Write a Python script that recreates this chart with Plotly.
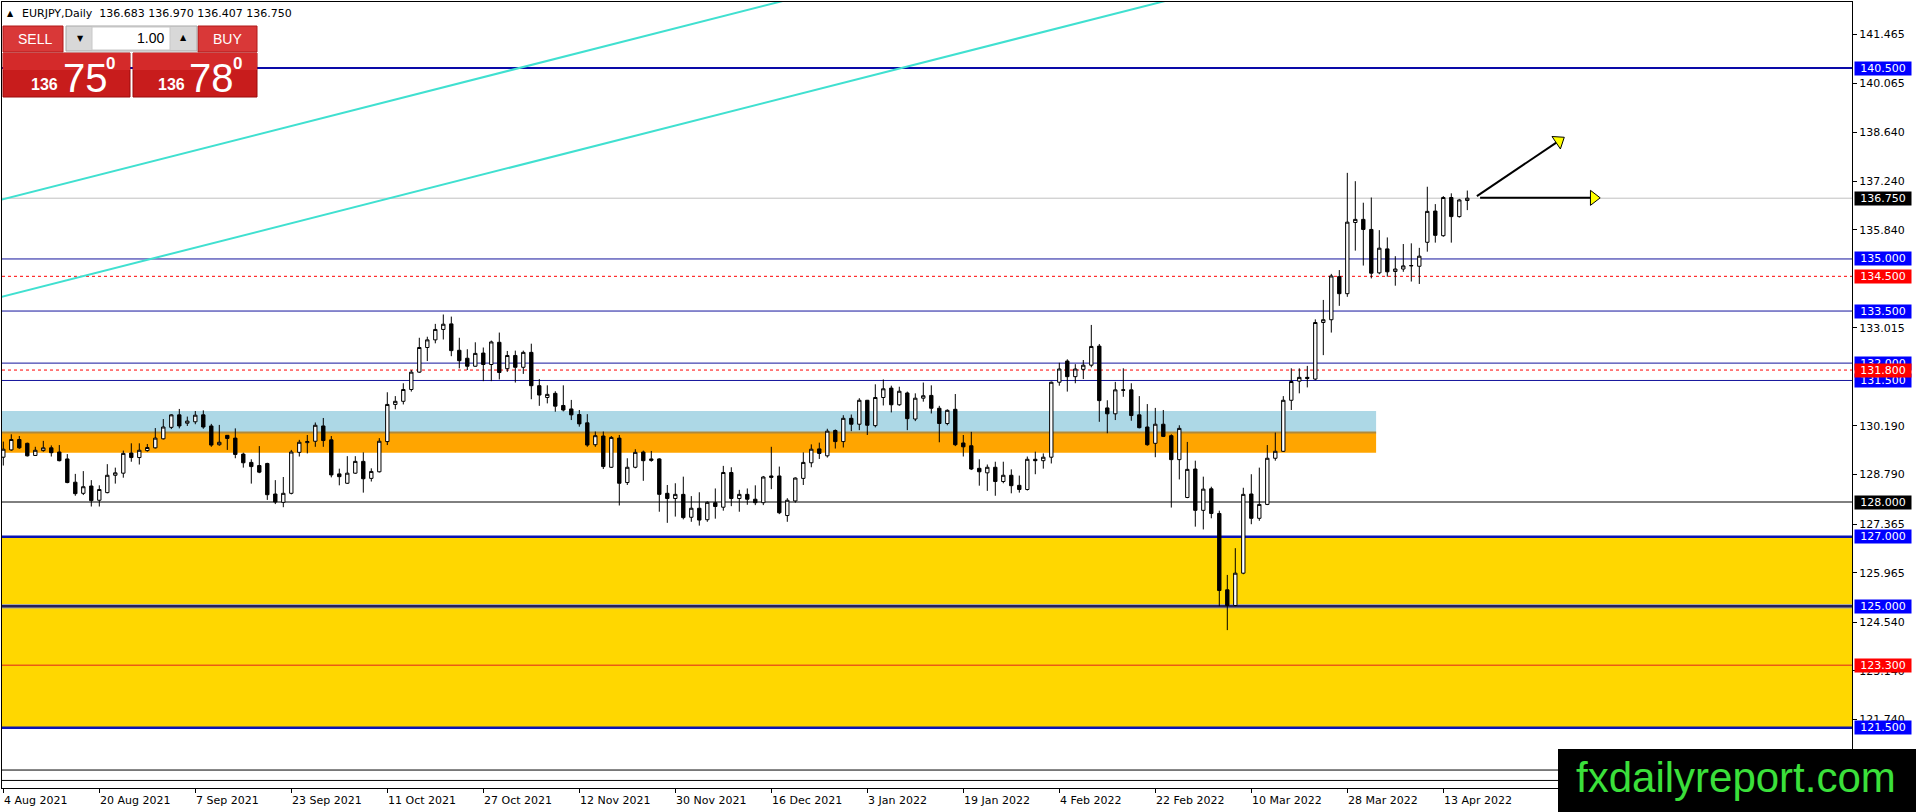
import plotly.graph_objects as go
import pandas as pd

# ---------------- data ----------------
SYMBOL = "EURJPY,Daily"
START_DATE = "2021-08-04"
BID = 136.750
ASK = 136.780

OPEN = [129.29, 129.50, 129.80, 129.69, 129.34, 129.48, 129.56, 129.44, 129.24, 128.57,
        128.25, 128.46, 128.05, 128.27, 128.77, 128.83, 129.41, 129.28, 129.48, 129.56,
        129.82, 130.15, 130.51, 130.27, 130.31, 130.51, 130.19, 129.65, 129.92, 129.84,
        129.38, 129.14, 129.05, 129.11, 128.23, 127.99, 128.25, 129.43, 129.71, 129.75,
        130.19, 129.79, 128.81, 128.54, 128.83, 129.17, 128.68, 128.87, 129.74, 130.81,
        130.90, 131.24, 131.74, 132.45, 132.67, 132.97, 133.13, 132.37, 132.14, 131.91,
        132.29, 131.96, 132.60, 131.84, 132.22, 131.88, 132.31, 131.35, 131.01, 131.13,
        130.78, 130.68, 130.52, 130.28, 129.65, 129.90, 129.00, 129.84, 128.56, 129.00,
        129.44, 129.24, 129.24, 128.25, 128.10, 128.22, 127.56, 127.82, 127.49, 127.98,
        127.85, 128.85, 128.10, 128.22, 128.08, 127.98, 128.75, 128.75, 127.61, 128.03,
        128.68, 129.13, 129.53, 129.33, 130.06, 129.74, 130.41, 130.24, 130.93, 130.20,
        131.01, 131.28, 130.80, 131.14, 130.39, 130.99, 131.07, 130.70, 130.26, 130.67,
        129.70, 129.62, 128.97, 128.84, 129.00, 128.59, 128.77, 128.48, 128.36, 129.23,
        129.19, 129.29, 131.45, 132.06, 131.61, 131.82, 131.94, 132.49, 130.71, 130.54,
        131.23, 131.23, 130.51, 130.16, 129.69, 130.24, 129.91, 129.22, 128.13, 128.95,
        127.76, 128.38, 127.67, 125.47, 125.02, 125.95, 128.23, 127.53, 127.93, 129.26,
        129.46, 130.93, 131.48, 131.59, 131.54, 133.17, 133.25, 134.49, 134.00, 136.05,
        136.14, 135.85, 134.60, 135.29, 134.64, 134.71, 134.80, 134.79, 135.48, 136.38,
        135.67, 136.77, 136.22, 136.683]
HIGH = [129.74, 129.95, 129.90, 129.71, 129.59, 129.76, 129.63, 129.64, 129.38, 128.81,
        128.89, 128.63, 128.48, 129.09, 128.99, 129.48, 129.69, 129.69, 129.67, 130.13,
        130.39, 130.53, 130.68, 130.46, 130.62, 130.64, 130.25, 130.22, 129.93, 130.12,
        129.42, 129.23, 129.61, 129.13, 128.63, 128.72, 129.50, 129.79, 129.93, 130.29,
        130.42, 129.90, 128.96, 129.32, 129.32, 129.43, 128.97, 129.84, 131.16, 131.05,
        131.42, 131.80, 132.73, 132.76, 133.13, 133.40, 133.34, 132.73, 132.40, 132.60,
        132.45, 132.65, 132.88, 132.35, 132.36, 132.36, 132.56, 131.54, 131.36, 131.19,
        131.36, 130.94, 130.65, 130.53, 130.03, 130.03, 129.90, 129.93, 129.26, 129.52,
        129.48, 129.47, 129.26, 128.49, 128.54, 128.73, 128.17, 128.28, 128.02, 128.39,
        129.04, 129.00, 128.35, 128.39, 128.48, 128.75, 129.59, 129.02, 128.11, 128.71,
        129.43, 129.66, 129.71, 130.11, 130.09, 130.50, 130.52, 130.99, 130.94, 131.39,
        131.53, 131.35, 131.32, 131.18, 131.13, 131.44, 131.36, 130.77, 130.67, 131.11,
        129.93, 130.02, 129.23, 129.08, 129.16, 129.16, 128.94, 128.76, 129.31, 129.45,
        129.40, 131.47, 132.01, 132.11, 131.97, 132.09, 133.10, 132.55, 130.93, 131.46,
        131.85, 131.42, 131.05, 130.82, 130.71, 130.65, 129.95, 130.21, 129.73, 129.19,
        128.73, 128.44, 127.75, 125.90, 126.67, 128.41, 128.80, 128.99, 129.64, 130.00,
        131.05, 131.85, 131.85, 131.92, 133.26, 133.82, 134.57, 134.68, 137.48, 137.24,
        136.62, 136.77, 135.83, 135.62, 135.08, 135.43, 135.45, 135.32, 137.08, 136.58,
        136.81, 136.89, 136.73, 136.970]
LOW = [129.05, 129.48, 129.53, 129.31, 129.33, 129.45, 129.31, 129.17, 128.54, 128.18,
       128.20, 127.87, 127.87, 128.25, 128.53, 128.70, 129.16, 129.08, 129.45, 129.54,
       129.80, 130.10, 130.12, 130.19, 130.24, 130.11, 129.59, 129.62, 129.50, 129.26,
       128.99, 128.53, 128.83, 128.06, 127.94, 127.85, 128.22, 129.31, 129.40, 129.59,
       129.59, 128.71, 128.48, 128.52, 128.81, 128.27, 128.59, 128.85, 129.64, 130.67,
       130.81, 131.18, 131.72, 132.06, 132.57, 132.68, 132.20, 131.85, 131.80, 131.90,
       131.48, 131.48, 131.53, 131.75, 131.44, 131.69, 130.96, 130.77, 130.84, 130.60,
       130.61, 130.36, 130.17, 129.59, 129.59, 128.95, 128.98, 127.90, 128.49, 128.97,
       128.61, 129.16, 127.72, 127.40, 127.58, 127.50, 127.43, 127.32, 127.43, 127.52,
       127.75, 127.88, 127.72, 127.92, 127.91, 127.91, 128.37, 127.65, 127.43, 127.98,
       128.49, 129.00, 129.24, 129.28, 129.54, 129.57, 130.04, 130.07, 129.93, 130.15,
       130.78, 130.58, 130.77, 130.07, 130.33, 130.89, 130.55, 129.72, 130.21, 129.61,
       129.31, 128.92, 128.47, 128.32, 128.18, 128.54, 128.25, 128.27, 128.33, 128.80,
       128.96, 129.11, 131.35, 131.18, 131.42, 131.54, 131.88, 130.31, 129.98, 130.36,
       131.03, 130.34, 130.12, 129.62, 129.29, 129.87, 127.84, 128.65, 128.11, 127.29,
       127.21, 127.53, 125.00, 124.31, 125.00, 125.92, 127.36, 127.46, 127.91, 129.19,
       129.44, 130.65, 131.13, 131.30, 131.51, 132.23, 132.88, 133.65, 133.91, 135.24,
       134.81, 134.44, 134.56, 134.49, 134.23, 134.63, 134.35, 134.28, 135.21, 135.47,
       135.64, 135.47, 136.19, 136.407]
CLOSE = [129.52, 129.80, 129.56, 129.33, 129.49, 129.56, 129.42, 129.19, 128.56, 128.24,
         128.44, 128.04, 128.36, 128.77, 128.84, 129.40, 129.28, 129.49, 129.57, 129.84,
         130.16, 130.51, 130.19, 130.33, 130.50, 130.16, 129.64, 129.72, 129.83, 129.37,
         129.13, 129.02, 128.86, 128.21, 128.00, 128.25, 129.44, 129.72, 129.74, 130.21,
         129.77, 128.78, 128.73, 128.83, 129.17, 128.67, 128.88, 129.75, 130.81, 130.90,
         131.24, 131.74, 132.45, 132.67, 132.97, 133.12, 132.36, 132.07, 131.91, 132.28,
         131.96, 132.61, 131.73, 132.22, 131.88, 132.31, 131.35, 131.08, 131.10, 130.76,
         130.65, 130.51, 130.25, 129.64, 129.91, 129.02, 129.86, 128.54, 129.00, 129.43,
         129.19, 129.20, 128.22, 128.10, 128.22, 127.55, 127.82, 127.48, 127.99, 127.87,
         128.85, 128.10, 128.22, 128.08, 127.98, 128.72, 128.71, 127.69, 128.05, 128.69,
         129.14, 129.52, 129.40, 130.04, 129.74, 130.41, 130.24, 130.93, 130.21, 131.01,
         131.26, 130.80, 131.19, 130.40, 130.99, 131.06, 130.70, 130.26, 130.64, 129.65,
         129.59, 128.95, 128.87, 129.00, 128.59, 128.77, 128.47, 128.36, 129.23, 129.19,
         129.29, 131.45, 131.83, 131.61, 131.83, 131.94, 132.48, 130.92, 130.54, 131.23,
         131.22, 130.49, 130.14, 129.65, 130.24, 129.89, 129.22, 130.12, 128.94, 127.76,
         128.37, 127.67, 125.45, 125.02, 125.95, 128.22, 127.53, 127.93, 129.26, 129.46,
         130.93, 131.47, 131.59, 131.56, 133.17, 133.25, 134.51, 134.00, 136.06, 136.14,
         135.85, 134.59, 135.31, 134.63, 134.71, 134.80, 134.81, 135.08, 136.37, 135.68,
         136.77, 136.22, 136.70, 136.750]

# price axis tick values (MT4 scale; those fully hidden behind level labels omitted)
Y_TICKS = [141.465, 140.065, 138.640, 137.240, 135.840, 133.015,
           130.190, 128.790, 127.365, 125.965, 124.540, 123.140, 121.740]
# time axis labels every 12 bars
X_TICK_STEP = 12

# horizontal levels (price, label colour or None)
LEVEL_PRICES = [140.5, 136.75, 135.0, 134.5, 133.5, 132.0, 131.5, 131.8,
                128.0, 127.0, 125.0, 123.3, 121.5, 120.28, 119.98]
LEVEL_LABEL_COLORS = ["#0000FF", "#000000", "#0000FF", "#FF0000", "#0000FF", "#0000FF",
                      "#0000FF", "#FF0000", "#000000", "#0000FF", "#0000FF", "#FF0000",
                      "#0000FF", None, None]

# zones (price ranges) and their right end (bar index)
YELLOW_ZONE = (121.5, 127.0)
BLUE_ZONE = (130.0, 130.62)
ORANGE_ZONE = (129.42, 130.0)
ZONE_END_BAR = 171.6

# trend channel lines: (bar0, price0, bar1, price1)
TREND_LINES = [(0, 136.72, 100, 142.58), (0, 133.92, 150, 142.71)]

# arrows: (start bar, start price, head bar, head price, head angle)
ARROWS = [(184.2, 136.81, 194.45, 138.40, -34), (184.6, 136.76, 198.8, 136.76, 0)]

# ---------------- geometry helpers ----------------
W, H = 1916, 812
PL, PR, PT, PB = 2, 1852, 2, 788
BAR_PX = 8.0
BAR0_PX = 3.3
PX_PER_UNIT = 34.72
REF_PRICE, REF_Y = 128.0, 502.0


def px(x):
    return (x - PL) / (PR - PL)


def py(y):
    return (PB - y) / (PB - PT)


x_range = [(PL - BAR0_PX) / BAR_PX, (PR - BAR0_PX) / BAR_PX]
y_range = [REF_PRICE - (PB - REF_Y) / PX_PER_UNIT, REF_PRICE + (REF_Y - PT) / PX_PER_UNIT]

n = len(OPEN)
bars = list(range(n))
dates = pd.bdate_range(START_DATE, periods=n)

fig = go.Figure()
fig.add_trace(go.Candlestick(
    x=bars, open=OPEN, high=HIGH, low=LOW, close=CLOSE,
    increasing=dict(line=dict(color="black", width=1), fillcolor="white"),
    decreasing=dict(line=dict(color="black", width=1), fillcolor="black"),
    whiskerwidth=0, hoverinfo="skip", showlegend=False,
))

# arrows
for sb, sp, hb, hp, ang in ARROWS:
    fig.add_trace(go.Scatter(x=[sb, hb], y=[sp, hp], mode="lines",
                             line=dict(color="black", width=2),
                             hoverinfo="skip", showlegend=False))
    fig.add_trace(go.Scatter(x=[hb], y=[hp], mode="markers",
                             marker=dict(symbol="triangle-right", size=13, color="#FFFF00",
                                         angle=ang, line=dict(color="black", width=1)),
                             hoverinfo="skip", showlegend=False))

shapes = []
x0d = x_range[0]
# zones
shapes.append(dict(type="rect", xref="paper", yref="y", x0=0, x1=1,
                   y0=YELLOW_ZONE[0], y1=YELLOW_ZONE[1], fillcolor="#FFD700",
                   line=dict(width=0), layer="below"))
shapes.append(dict(type="rect", xref="x", yref="y", x0=x0d, x1=ZONE_END_BAR,
                   y0=BLUE_ZONE[0], y1=BLUE_ZONE[1], fillcolor="#ADD8E6",
                   line=dict(width=0), layer="below"))
shapes.append(dict(type="rect", xref="x", yref="y", x0=x0d, x1=ZONE_END_BAR,
                   y0=ORANGE_ZONE[0], y1=ORANGE_ZONE[1], fillcolor="#FFA500",
                   line=dict(width=0), layer="below"))
shapes.append(dict(type="line", xref="x", yref="y", x0=x0d, x1=ZONE_END_BAR,
                   y0=ORANGE_ZONE[1], y1=ORANGE_ZONE[1],
                   line=dict(color="#B0893A", width=2), layer="below"))

# level line styles
level_style = {
    140.5: dict(color="#0A0AA8", width=2),
    136.75: dict(color="#C0C0C0", width=1),
    135.0: dict(color="#14149C", width=1),
    134.5: dict(color="#FF0000", width=1, dash="3px,3px"),
    133.5: dict(color="#14149C", width=1),
    132.0: dict(color="#14149C", width=1),
    131.8: dict(color="#FF0000", width=1, dash="3px,3px"),
    131.5: dict(color="#14149C", width=1),
    128.0: dict(color="#000000", width=1),
    127.0: dict(color="#0A14B4", width=2.5),
    125.0: dict(color="#26205A", width=2.5),
    123.3: dict(color="#E02020", width=1),
    121.5: dict(color="#0A14B4", width=2.5),
    120.28: dict(color="#000000", width=1),
    119.98: dict(color="#000000", width=1),
}
for lv in LEVEL_PRICES:
    if lv == 125.0:
        shapes.append(dict(type="line", xref="paper", yref="y", x0=0, x1=1, y0=lv, y1=lv,
                           line=dict(color="#A8A8A8", width=4.5), layer="below"))
    shapes.append(dict(type="line", xref="paper", yref="y", x0=0, x1=1, y0=lv, y1=lv,
                       line=level_style[lv], layer="below"))

# trend lines
for b0, p0, b1, p1 in TREND_LINES:
    shapes.append(dict(type="line", xref="x", yref="y", x0=b0 - 5, x1=b1,
                       y0=p0 - 5 * (p1 - p0) / (b1 - b0), y1=p1,
                       line=dict(color="#40E0D0", width=2), layer="below"))


def prect(x0, y0, x1, y1, fill, line_color=None, lw=0):
    shapes.append(dict(type="rect", xref="paper", yref="paper",
                       x0=px(x0), x1=px(x1), y0=py(y1), y1=py(y0),
                       fillcolor=fill, line=dict(color=line_color or fill, width=lw),
                       layer="above"))


# one-click trading panel
prect(3, 26, 63, 52, "#D93838", "#B01818", 1)
prect(3, 52, 63, 53, "#F2A0A0")
prect(198, 26, 257, 52, "#D93838", "#B01818", 1)
prect(198, 52, 257, 53, "#F2A0A0")
prect(66, 26, 197, 51, "#D8D8D8", "#A8A8A8", 1)
prect(92, 27, 170, 50, "#FFFFFF", "#C8C8C8", 1)
prect(3, 53, 130, 97, "#C81C1C", "#9A0A0A", 1)
prect(133, 53, 257, 97, "#C81C1C", "#9A0A0A", 1)
prect(3, 53, 130, 70, "#D42A2A")
prect(133, 53, 257, 70, "#D42A2A")

# watermark box
prect(1558, 749, 1916, 812, "#000000")

annotations = []


def ptext(x, y, text, size, color="black", xanchor="left", family="DejaVu Sans", bold=False):
    if bold:
        text = "<b>" + text + "</b>"
    annotations.append(dict(xref="paper", yref="paper", x=px(x), y=py(y), text=text,
                            showarrow=False, xanchor=xanchor, yanchor="middle",
                            font=dict(family=family, size=size, color=color)))


# header
last = n - 1
header = f"{SYMBOL}  {OPEN[last]:.3f} {HIGH[last]:.3f} {LOW[last]:.3f} {CLOSE[last]:.3f}"
ptext(5, 13, "▲", 8)
ptext(20, 13, header, 11)

# panel texts
ptext(35, 39, "SELL", 14, "white", "center", "Liberation Sans")
ptext(227, 39, "BUY", 14, "white", "center", "Liberation Sans")
ptext(80, 39, "▼", 8, "black", "center")
ptext(183, 38, "▲", 8, "black", "center")
ptext(166, 38, "1.00", 14, "black", "right", "Liberation Sans")
bid_s, ask_s = f"{BID:.3f}", f"{ASK:.3f}"
for (big, sup, small), x_small, x_big, x_sup in [
        ((bid_s[4:6], bid_s[6], bid_s[:3]), 29, 61, 104),
        ((ask_s[4:6], ask_s[6], ask_s[:3]), 156, 187, 231)]:
    ptext(x_small, 85, small, 16, "white", "left", "Liberation Sans", True)
    ptext(x_big, 78, big, 40, "white", "left", "Liberation Sans")
    ptext(x_sup, 64, sup, 17, "white", "left", "Liberation Sans", True)

# time axis labels
for i in range(0, n, X_TICK_STEP):
    annotations.append(dict(xref="x", yref="paper", x=i, y=py(792), text=dates[i].strftime("%-d %b %Y"),
                            showarrow=False, xanchor="left", yanchor="top", xshift=-1,
                            font=dict(family="DejaVu Sans", size=11, color="black")))

# level labels on the price scale
for lv, col in zip(LEVEL_PRICES, LEVEL_LABEL_COLORS):
    if col is None:
        continue
    annotations.append(dict(xref="paper", yref="y", x=px(1854), y=lv, text=f"{lv:.3f}",
                            showarrow=False, xanchor="left", yanchor="middle",
                            width=54, height=11, borderpad=1, bgcolor=col, align="center",
                            font=dict(family="DejaVu Sans", size=11, color="white")))

# watermark text
ptext(1736, 777, "fxdailyreport.com", 42, "#3BE03B", "center", "Liberation Sans")

fig.update_layout(
    width=W, height=H, autosize=False,
    margin=dict(l=PL, r=W - PR, t=PT, b=H - PB, pad=0),
    paper_bgcolor="white", plot_bgcolor="white",
    boxgap=0.4,
    shapes=shapes, annotations=annotations, showlegend=False,
    xaxis=dict(range=x_range, showgrid=False, zeroline=False, rangeslider=dict(visible=False),
               tickvals=list(range(0, n, X_TICK_STEP)), ticks="outside", ticklen=4,
               tickcolor="black", showticklabels=False, showline=True, mirror=True,
               linecolor="black", linewidth=1, automargin=False, fixedrange=True),
    yaxis=dict(range=y_range, side="right", showgrid=False, zeroline=False,
               tickvals=Y_TICKS, ticktext=[f"{v:.3f}" for v in Y_TICKS],
               ticks="outside", ticklen=4, tickcolor="black",
               tickfont=dict(family="DejaVu Sans", size=11, color="black"),
               showline=True, mirror=True, linecolor="black", linewidth=1,
               automargin=False, fixedrange=True),
)

fig.write_html("out.html", config={"displayModeBar": False},
               post_script="document.body.style.margin='0';document.body.style.overflow='hidden';")
